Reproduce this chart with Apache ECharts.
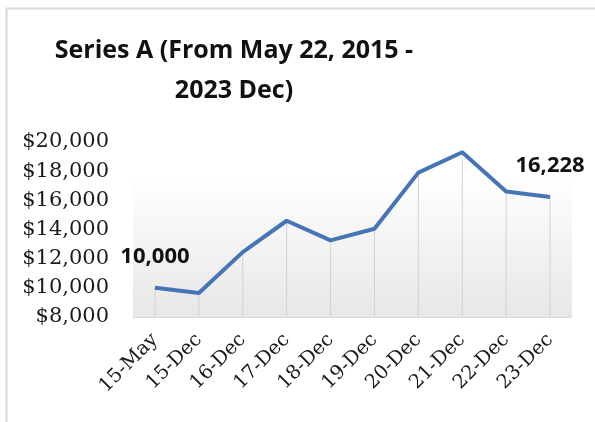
<!DOCTYPE html>
<html style="height: 100%">
<head>
  <meta charset="utf-8">
  <title>Series A</title>
</head>
<body style="height: 100%; margin: 0; background: #fff">
<div id="container" style="width: 595px; height: 422px"></div>
<script type="text/javascript" src="https://cdn.jsdelivr.net/npm/echarts@6/dist/echarts.min.js"></script>
<script type="text/javascript">
  // data
  let categories = ['15-May', '15-Dec', '16-Dec', '17-Dec', '18-Dec', '19-Dec', '20-Dec', '21-Dec', '22-Dec', '23-Dec']
  let values = [10000, 9650, 12450, 14600, 13250, 14050, 17900, 19300, 16600, 16228]
  let yMin = 8000
  let yMax = 20000
  let yStep = 2000
  // only first and last points carry a label
  let labelled = [0, values.length - 1]

  let dom = document.getElementById('container')
  let myChart = echarts.init(dom)

  let lineData = values.map((v, i) => ({
    value: v,
    label: { show: labelled.includes(i) }
  }))

  let option = {
    animation: false,
    graphic: [{
      type: 'rect',
      shape: { x: 6.5, y: 8.5, width: 640, height: 460 },
      style: { fill: 'none', stroke: '#d9d9d9', lineWidth: 2 },
      silent: true
    }],
    title: {
      text: 'Series A (From May 22, 2015 -\n2023 Dec)',
      left: 229,
      top: 26,
      textAlign: 'center',
      textStyle: {
        fontFamily: 'Open Sans',
        fontWeight: 'bold',
        fontSize: 25,
        lineHeight: 40,
        color: '#111'
      }
    },
    grid: { left: 133, right: 23, top: 142, bottom: 105 },
    xAxis: {
      type: 'category',
      data: categories,
      boundaryGap: true,
      axisLine: { show: true, lineStyle: { color: '#d9d9d9', width: 1 } },
      axisTick: { show: false },
      axisLabel: {
        interval: 0,
        rotate: 45,
        margin: 20,
        fontFamily: 'DejaVu Serif',
        fontSize: 19.5,
        color: '#1a1a1a'
      }
    },
    yAxis: {
      type: 'value',
      min: yMin,
      max: yMax,
      interval: yStep,
      axisLine: { show: false },
      axisTick: { show: false },
      splitLine: { show: false },
      axisLabel: {
        margin: 24,
        fontFamily: 'DejaVu Serif',
        fontSize: 21,
        color: '#1a1a1a',
        formatter: v => '$' + v.toLocaleString('en-US')
      }
    },
    series: [
      {
        // thin drop lines from each point to the floor
        type: 'bar',
        data: values,
        barWidth: 1,
        itemStyle: { color: '#d2d2d2' },
        silent: true,
        z: 1,
        markArea: {
          silent: true,
          itemStyle: {
            color: new echarts.graphic.LinearGradient(0, 0, 0, 1, [
              { offset: 0, color: '#fefefe' },
              { offset: 1, color: '#e7e7e7' }
            ])
          },
          data: [[{ yAxis: yMin }, { yAxis: 17400 }]]
        }
      },
      {
        type: 'line',
        data: lineData,
        symbolSize: 0,
        lineStyle: { color: '#4575b4', width: 4 },
        itemStyle: { color: '#4575b4' },
        z: 3,
        label: {
          position: 'top',
          distance: 20,
          fontFamily: 'Open Sans',
          fontWeight: 'bold',
          fontSize: 22,
          color: '#111',
          formatter: p => p.value.toLocaleString('en-US')
        }
      }
    ]
  }

  myChart.setOption(option, true)
</script>
</body>
</html>
